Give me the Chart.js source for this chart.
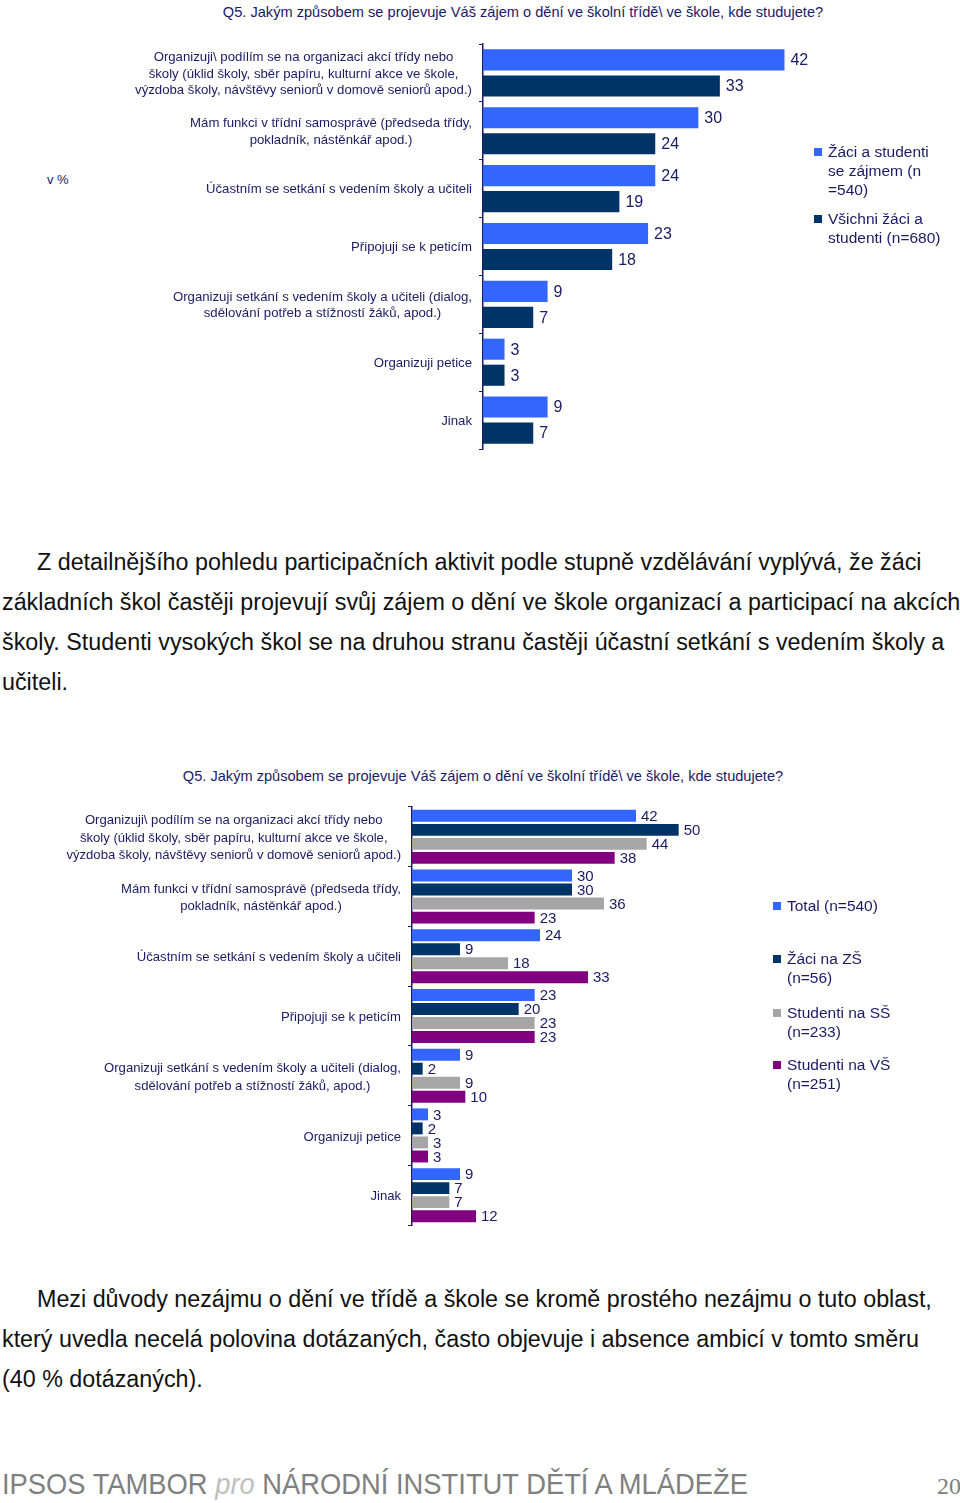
<!DOCTYPE html>
<html>
<head>
<meta charset="utf-8">
<script src="https://cdn.jsdelivr.net/npm/chart.js@4.4.1/dist/chart.umd.min.js"></script>
<style>
  html, body { margin: 0; padding: 0; background: #fff; }
  body { width: 960px; height: 1503px; position: relative; overflow: hidden; font-family: "Liberation Sans", Arial, sans-serif; }
  .abs { position: absolute; }
  .title { color: #1a1a66; font-size: 14.6px; white-space: nowrap; transform: translateX(-50%); }
  .navy { color: #1a1a66; }
  .legend { color: #1a1a66; font-size: 15.5px; line-height: 19px; }
  .legend .item { position: absolute; left: 0; white-space: nowrap; }
  .legend .sw { position: absolute; width: 8px; height: 8px; left: -14px; top: 6px; }
  .para { color: #111; font-size: 23.3px; line-height: 40px; white-space: nowrap; left: 2px; }
  .footer { color: #808080; font-size: 29px; white-space: nowrap; transform-origin: 0 50%; }
  .footer i { color: #c0c0c0; }
  canvas { position: absolute; left: 0; }
</style>
</head>
<body>

<div class="abs title" id="t1" style="left:523px; top:4px;">Q5. Jakým způsobem se projevuje Váš zájem o dění ve školní třídě\ ve škole, kde studujete?</div>
<div class="abs navy" style="left:47px; top:172px; font-size:13px;">v %</div>
<canvas id="c1" width="960" height="470" style="top:0px;"></canvas>
<div class="abs legend" style="left:828px; top:142px;">
  <div class="item" style="top:0px;"><span class="sw" style="background:#3366ff"></span>Žáci a studenti<br>se zájmem (n<br>=540)</div>
  <div class="item" style="top:67px;"><span class="sw" style="background:#003366"></span>Všichni žáci a<br>studenti (n=680)</div>
</div>

<div class="abs para" style="top:542px;">
  <span style="padding-left:35px"></span>Z detailnějšího pohledu participačních aktivit podle stupně vzdělávání vyplývá, že žáci<br>
  základních škol častěji projevují svůj zájem o dění ve škole organizací a participací na akcích<br>
  školy. Studenti vysokých škol se na druhou stranu častěji účastní setkání s vedením školy a<br>
  učiteli.
</div>

<div class="abs title" id="t2" style="left:483px; top:768px;">Q5. Jakým způsobem se projevuje Váš zájem o dění ve školní třídě\ ve škole, kde studujete?</div>
<canvas id="c2" width="960" height="450" style="top:790px;"></canvas>
<div class="abs legend" style="left:787px; top:896px;">
  <div class="item" style="top:0px;"><span class="sw" style="background:#3366ff"></span>Total (n=540)</div>
  <div class="item" style="top:53px;"><span class="sw" style="background:#003366"></span>Žáci na ZŠ<br>(n=56)</div>
  <div class="item" style="top:107px;"><span class="sw" style="background:#a6a6a6"></span>Studenti na SŠ<br>(n=233)</div>
  <div class="item" style="top:159px;"><span class="sw" style="background:#800080"></span>Studenti na VŠ<br>(n=251)</div>
</div>

<div class="abs para" style="top:1279px;">
  <span style="padding-left:35px"></span>Mezi důvody nezájmu o dění ve třídě a škole se kromě prostého nezájmu o tuto oblast,<br>
  který uvedla necelá polovina dotázaných, často objevuje i absence ambicí v tomto směru<br>
  (40 % dotázaných).
</div>

<div class="abs footer" id="foot" style="left:2px; top:1468px;">IPSOS TAMBOR <i>pro</i> NÁRODNÍ INSTITUT DĚTÍ A MLÁDEŽE</div>
<div class="abs" style="left:937px; top:1473px; font-family:'Liberation Serif','Times New Roman',serif; font-size:24px; color:#808080;">20</div>

<script>
// ---------- data ----------
const categories = [
  ["Organizuji\\ podílím se na organizaci akcí třídy nebo", "školy (úklid školy, sběr papíru, kulturní akce ve škole,", "výzdoba školy, návštěvy seniorů v domově seniorů apod.)"],
  ["Mám funkci v třídní samosprávě (předseda třídy,", "pokladník, nástěnkář apod.)"],
  ["Účastním se setkání s vedením školy a učiteli"],
  ["Připojuji se k peticím"],
  ["Organizuji setkání s vedením školy a učiteli (dialog,", "sdělování potřeb a stížností žáků, apod.)"],
  ["Organizuji petice"],
  ["Jinak"]
];
const seriesNames1 = ["Žáci a studenti se zájmem (n =540)", "Všichni žáci a studenti (n=680)"];
const interestedValues = [42, 30, 24, 23, 9, 3, 9];
const allStudentsValues = [33, 24, 19, 18, 7, 3, 7];

const seriesNames2 = ["Total (n=540)", "Žáci na ZŠ (n=56)", "Studenti na SŠ (n=233)", "Studenti na VŠ (n=251)"];
const totalValues = [42, 30, 24, 23, 9, 3, 9];
const zsValues = [50, 30, 9, 20, 2, 2, 7];
const ssValues = [44, 36, 18, 23, 9, 3, 7];
const vsValues = [38, 23, 33, 23, 10, 3, 12];

// ---------- styling ----------
const NAVY_TEXT = "#1a1a66";
const BLUE = "#3366ff", DARK = "#003366", GRAY = "#a6a6a6", PURPLE = "#800080";

function makePlugins(opts) {
  return [{
    id: 'customLabels',
    afterDraw(chart) {
      const ctx = chart.ctx;
      const y = chart.scales.y;
      const area = chart.chartArea;
      ctx.save();
      ctx.fillStyle = NAVY_TEXT;
      ctx.font = opts.catFont;
      ctx.textBaseline = 'middle';
      ctx.textAlign = 'center';
      categories.forEach((lines, i) => {
        const cy = y.getPixelForValue(i) + opts.catDy;
        const maxW = Math.max(...lines.map(l => ctx.measureText(l).width));
        const cx = area.left - opts.labelGap - maxW / 2;
        lines.forEach((l, j) => {
          ctx.fillText(l, cx, cy + (j - (lines.length - 1) / 2) * opts.lineH);
        });
      });
      ctx.font = opts.valFont;
      ctx.textAlign = 'left';
      chart.data.datasets.forEach((ds, di) => {
        const meta = chart.getDatasetMeta(di);
        meta.data.forEach((bar, i) => {
          ctx.fillText(String(ds.data[i]), bar.x + opts.valGap, bar.y + opts.valDy);
        });
      });
      ctx.restore();
    }
  }];
}

function makeChart(id, datasets, xMax, axisLeft, pad, cp, bp, opts) {
  return new Chart(document.getElementById(id), {
    type: 'bar',
    data: { labels: categories.map(c => c.join(' ')), datasets },
    options: {
      indexAxis: 'y',
      responsive: false,
      animation: false,
      layout: { padding: pad },
      datasets: { bar: { categoryPercentage: cp, barPercentage: bp } },
      scales: {
        x: { display: false, min: 0, max: xMax },
        y: {
          display: true,
          ticks: { display: false },
          grid: { drawOnChartArea: false, drawTicks: true, tickLength: 4, color: NAVY_TEXT, lineWidth: 1, offset: true },
          border: { display: true, color: NAVY_TEXT, width: 1.5 },
          afterFit(scale) { scale.width = axisLeft; }
        }
      },
      plugins: { legend: { display: false }, tooltip: { enabled: false } }
    },
    plugins: makePlugins(opts)
  });
}

makeChart('c1', [
  { label: seriesNames1[0], data: interestedValues, backgroundColor: BLUE },
  { label: seriesNames1[1], data: allStudentsValues, backgroundColor: DARK }
], 45, 483, { left: 0, top: 44, bottom: 21, right: 154 }, 0.9, 0.81,
  { catFont: '13.2px "Liberation Sans", Arial, sans-serif', valFont: '16px "Liberation Sans", Arial, sans-serif', lineH: 16.8, labelGap: 11, valGap: 6, valDy: 1, catDy: 1 });

makeChart('c2', [
  { label: seriesNames2[0], data: totalValues, backgroundColor: BLUE },
  { label: seriesNames2[1], data: zsValues, backgroundColor: DARK },
  { label: seriesNames2[2], data: ssValues, backgroundColor: GRAY },
  { label: seriesNames2[3], data: vsValues, backgroundColor: PURPLE }
], 60, 412, { left: 0, top: 17, bottom: 15, right: 228 }, 0.94, 0.85,
  { catFont: '13.1px "Liberation Sans", Arial, sans-serif', valFont: '15px "Liberation Sans", Arial, sans-serif', lineH: 17.5, labelGap: 11, valGap: 5, valDy: 1, catDy: 1.5 });

const foot = document.getElementById('foot');
const w = foot.getBoundingClientRect().width;
foot.style.transform = 'scaleX(' + (746 / w) + ')';
</script>
</body>
</html>
